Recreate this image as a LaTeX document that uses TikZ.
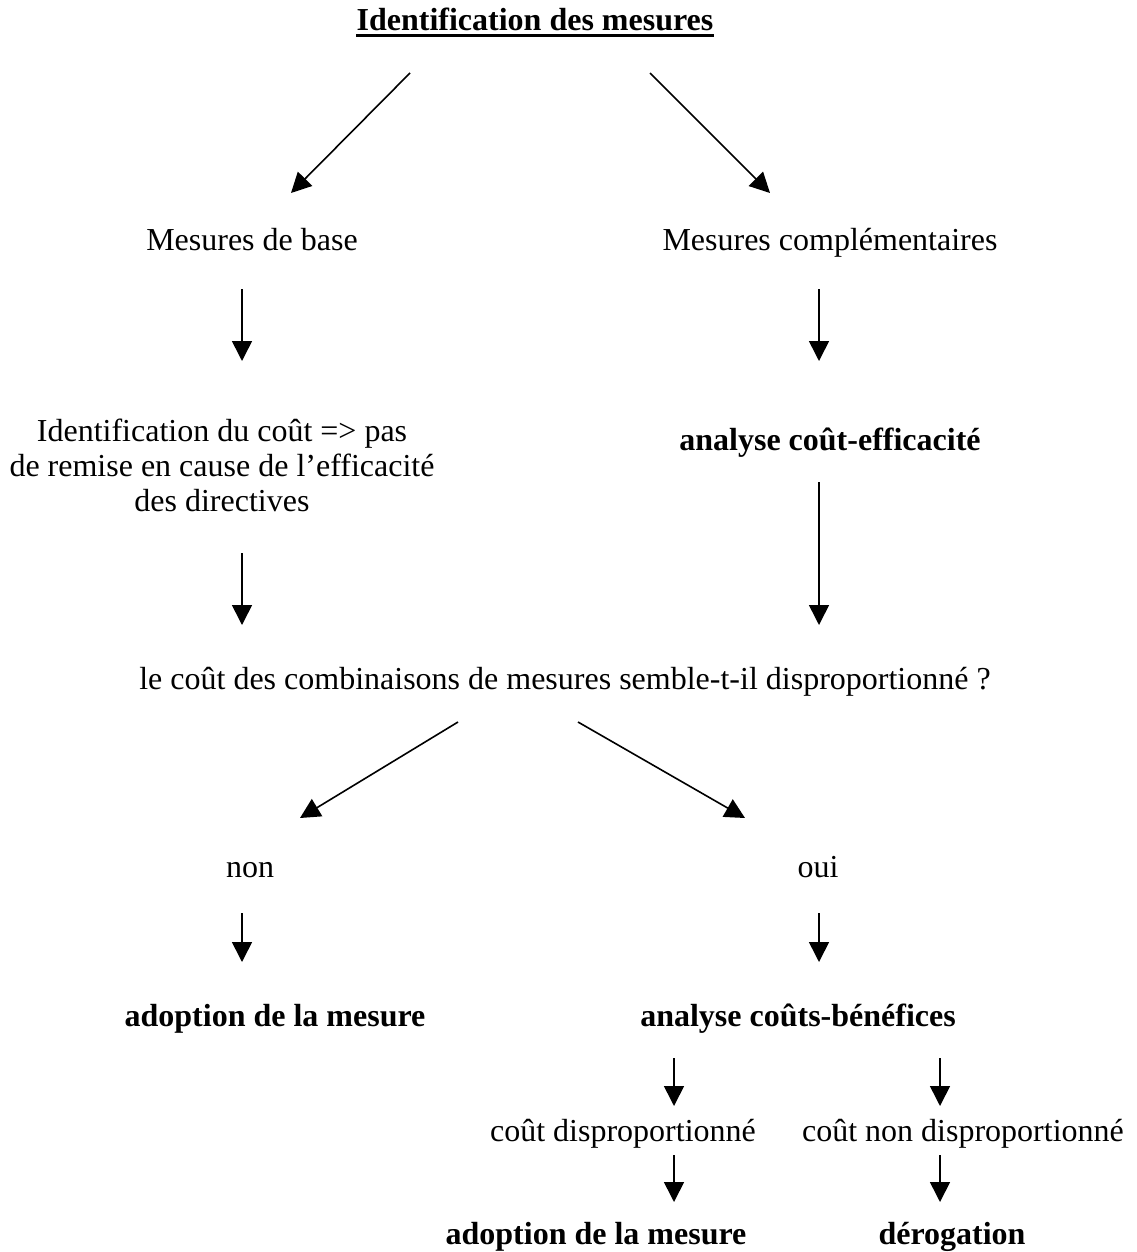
\documentclass[tikz,border=0pt]{standalone}
\usepackage{fontspec}
\setmainfont{Liberation Serif}
\usetikzlibrary{arrows.meta}
\begin{document}
\begin{tikzpicture}[x=1pt,y=-1pt,
  lbl/.style={inner sep=0pt, text height=21pt, text depth=7pt,
    font=\fontsize{32}{35}\selectfont},
  blbl/.style={lbl, font=\fontsize{32}{35}\selectfont\bfseries},
  flow/.style={line width=1.6pt, -{Triangle[width=20pt,length=20pt]}}]
\useasboundingbox (0,0) rectangle (1136,1252);

% title
\node[blbl] (title) at (535,24) {Identification des mesures};
\draw[line width=3pt] ([yshift=-5pt]title.base west) -- ([yshift=-5pt]title.base east);
\coordinate (t1) at (410,73);
\coordinate (t2) at (650,73);

% first level
\node[lbl] (base) at (252,243) {Mesures de base};
\node[lbl] (compl) at (830,243) {Mesures complémentaires};
\draw[flow] (t1) -- (291,193) coordinate (b1);
\draw[flow] (t2) -- (770,193) coordinate (c1);

% second level
\coordinate (base1) at (242,289);
\coordinate (base2) at (242,361);
\coordinate (compl1) at (819,289);
\coordinate (compl2) at (819,361);
\draw[flow] (base1) -- (base2);
\draw[flow] (compl1) -- (compl2);

\node[lbl, align=center, text height=, text depth=, font=\fontsize{32}{35}\selectfont]
  (idcout) at (222,465) {Identification du coût => pas\\de remise en cause de l’efficacité\\des directives};
\node[blbl] (ace) at (830,443) {analyse coût-efficacité};

\coordinate (id1) at (242,553);
\coordinate (id2) at (242,625);
\coordinate (ace1) at (819,482);
\coordinate (ace2) at (819,625);
\draw[flow] (id1) -- (id2);
\draw[flow] (ace1) -- (ace2);

% question
\node[lbl] (question) at (565,682) {le coût des combinaisons de mesures semble-t-il disproportionné ?};
\coordinate (q1) at (458,722);
\coordinate (q2) at (578,722);
\draw[flow] (q1) -- (300,818);
\draw[flow] (q2) -- (745,818);

% answers
\node[lbl] (non) at (250,870) {non};
\node[lbl] (oui) at (818,870) {oui};
\coordinate (non1) at (242,913);
\coordinate (non2) at (242,962);
\coordinate (oui1) at (819,913);
\coordinate (oui2) at (819,962);
\draw[flow] (non1) -- (non2);
\draw[flow] (oui1) -- (oui2);

\node[blbl] (adopt1) at (275,1019) {adoption de la mesure};
\node[blbl] (acb) at (798,1019) {analyse coûts-bénéfices};

% cost-benefit outcomes
\coordinate (acb1) at (674,1058);
\coordinate (acb2) at (674,1106);
\coordinate (acb3) at (940,1058);
\coordinate (acb4) at (940,1106);
\draw[flow] (acb1) -- (acb2);
\draw[flow] (acb3) -- (acb4);

\node[lbl] (cd) at (623,1134) {coût disproportionné};
\node[lbl] (cnd) at (963,1134) {coût non disproportionné};

\coordinate (cd1) at (674,1155);
\coordinate (cd2) at (674,1202);
\coordinate (cnd1) at (940,1155);
\coordinate (cnd2) at (940,1202);
\draw[flow] (cd1) -- (cd2);
\draw[flow] (cnd1) -- (cnd2);

\node[blbl] (adopt2) at (596,1237) {adoption de la mesure};
\node[blbl] (derog) at (952,1237) {dérogation};
\end{tikzpicture}
\end{document}
